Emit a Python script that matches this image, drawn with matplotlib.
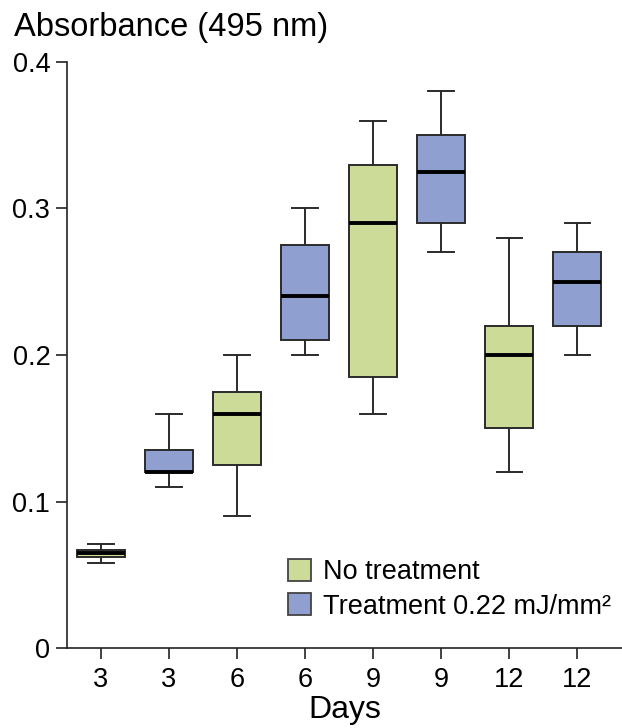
import matplotlib.pyplot as plt
from matplotlib.patches import Patch

plt.rcParams['font.family'] = ['Liberation Sans', 'DejaVu Sans']

# day label and group for each box, left to right
days = ['3', '3', '6', '6', '9', '9', '12', '12']
groups = ['none', 'treat', 'none', 'treat', 'none', 'treat', 'none', 'treat']

# five-number summaries (absorbance at 495 nm)
whisker_low = [0.058, 0.110, 0.090, 0.200, 0.160, 0.270, 0.120, 0.200]
q1 = [0.062, 0.120, 0.125, 0.210, 0.185, 0.290, 0.150, 0.220]
median = [0.065, 0.120, 0.160, 0.240, 0.290, 0.325, 0.200, 0.250]
q3 = [0.067, 0.135, 0.175, 0.275, 0.330, 0.350, 0.220, 0.270]
whisker_high = [0.071, 0.160, 0.200, 0.300, 0.360, 0.380, 0.280, 0.290]

colors = {'none': '#cddb99', 'treat': '#8fa0d0'}
labels = {'none': 'No treatment', 'treat': 'Treatment 0.22 mJ/mm²'}

fig = plt.figure(figsize=(6.22, 7.28), dpi=100)
ax = fig.add_axes([67 / 622, 80 / 728, 555 / 622, 586 / 728])

stats = []
for i in range(len(days)):
    stats.append({'whislo': whisker_low[i], 'q1': q1[i], 'med': median[i],
                  'q3': q3[i], 'whishi': whisker_high[i], 'fliers': []})

positions = list(range(1, len(days) + 1))
bp = ax.bxp(stats, positions=positions, widths=0.71, capwidths=0.37,
            patch_artist=True, showfliers=False,
            boxprops=dict(edgecolor='#2b2b2b', linewidth=1.4),
            whiskerprops=dict(color='#2b2b2b', linewidth=1.4),
            capprops=dict(color='#2b2b2b', linewidth=1.4),
            medianprops=dict(color='black', linewidth=2.8))
for box, g in zip(bp['boxes'], groups):
    box.set_facecolor(colors[g])

ax.set_xlim(0.5, 8.66)
ax.set_ylim(0, 0.4)
ax.set_xticks(positions)
ax.set_xticklabels(days)
ax.set_yticks([0, 0.1, 0.2, 0.3, 0.4])
ax.set_yticklabels(['0', '0.1', '0.2', '0.3', '0.4'])
ax.tick_params(axis='both', direction='out', length=8, width=1.2,
               labelsize=19.5, colors='#222222', labelcolor='black')
ax.tick_params(axis='x', pad=6)
ax.tick_params(axis='y', pad=4)

for side in ['top', 'right']:
    ax.spines[side].set_visible(False)
for side in ['left', 'bottom']:
    ax.spines[side].set_linewidth(1.2)
    ax.spines[side].set_color('#222222')

ax.set_xlabel('Days', fontsize=23, labelpad=1)
fig.text(14 / 622, 1 - 36 / 728, 'Absorbance (495 nm)', fontsize=23.5,
         ha='left', va='baseline')

handles = [Patch(facecolor=colors[g], edgecolor='#444444', linewidth=1.3,
                 label=labels[g]) for g in ['none', 'treat']]
ax.legend(handles=handles, loc='lower right', bbox_to_anchor=(1.0, 0.03),
          frameon=False, fontsize=19.5, handlelength=0.85, handleheight=0.85,
          handletextpad=0.45, labelspacing=0.3, borderaxespad=0.0)

fig.savefig('out.png', dpi=100)
